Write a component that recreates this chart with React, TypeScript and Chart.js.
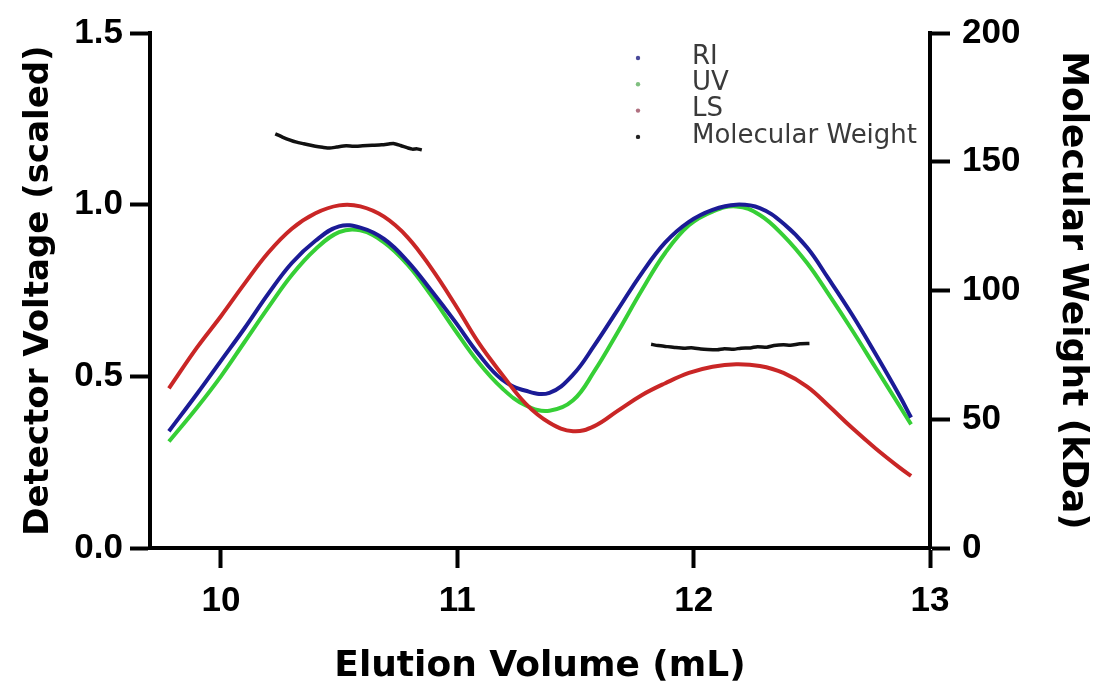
import React, { useEffect, useRef } from 'react';
import { Chart, registerables } from 'chart.js';

Chart.register(...registerables);

// ---- data ----
const VOLUME = [9.78, 9.90, 10.00, 10.10, 10.20, 10.30, 10.40, 10.50, 10.59, 10.69, 10.79, 10.89, 10.99, 11.09, 11.19, 11.29, 11.39, 11.49, 11.58, 11.68, 11.78, 11.88, 11.98, 12.08, 12.18, 12.28, 12.38, 12.48, 12.57, 12.67, 12.77, 12.87, 12.92];
const RI = [0.34, 0.45, 0.545, 0.64, 0.74, 0.83, 0.895, 0.937, 0.933, 0.9, 0.835, 0.75, 0.66, 0.565, 0.49, 0.458, 0.452, 0.505, 0.59, 0.695, 0.8, 0.89, 0.95, 0.985, 1.0, 0.99, 0.945, 0.875, 0.785, 0.68, 0.565, 0.445, 0.38];
const UV = [0.31, 0.41, 0.50, 0.60, 0.70, 0.795, 0.87, 0.92, 0.925, 0.89, 0.825, 0.735, 0.635, 0.54, 0.465, 0.415, 0.40, 0.43, 0.515, 0.63, 0.75, 0.86, 0.94, 0.98, 0.995, 0.97, 0.91, 0.83, 0.74, 0.635, 0.525, 0.415, 0.36];
const LS = [0.465, 0.585, 0.675, 0.77, 0.86, 0.93, 0.975, 0.998, 0.995, 0.965, 0.905, 0.815, 0.71, 0.598, 0.505, 0.42, 0.365, 0.34, 0.355, 0.40, 0.445, 0.48, 0.51, 0.528, 0.535, 0.53, 0.51, 0.47, 0.415, 0.35, 0.29, 0.235, 0.21];

const MW_VOLUME_1 = [10.23, 10.26, 10.29, 10.32, 10.35, 10.38, 10.40, 10.43, 10.46, 10.49, 10.53, 10.56, 10.60, 10.64, 10.68, 10.71, 10.73, 10.76, 10.79, 10.81, 10.83, 10.85];
const MW_1 = [160.8, 159.6, 158.5, 157.6, 157.0, 156.4, 156.0, 155.6, 155.3, 155.7, 156.2, 156.0, 156.2, 156.4, 156.6, 156.9, 157.1, 156.3, 155.4, 154.9, 155.0, 154.6];
const MW_VOLUME_2 = [11.82, 11.85, 11.89, 11.92, 11.96, 11.99, 12.03, 12.06, 12.10, 12.13, 12.17, 12.20, 12.24, 12.27, 12.31, 12.34, 12.38, 12.41, 12.45, 12.49];
const MW_2 = [79.1, 78.6, 78.2, 77.9, 77.6, 77.8, 77.3, 77.1, 77.0, 77.4, 77.2, 77.6, 77.7, 78.2, 78.0, 78.6, 78.9, 78.7, 79.3, 79.4];

const X_TICKS = [10, 11, 12, 13];
const SERIES_LABELS = ['RI', 'UV', 'LS', 'Molecular Weight'];

const ARIAL = "'Liberation Sans', Arial, Helvetica, sans-serif";
const DEJAVU = "'DejaVu Sans', Verdana, sans-serif";

const insideLegend = {
  id: 'insideLegend',
  afterDraw(chart: any) {
    const ctx = chart.ctx;
    ctx.save();
    ctx.font = `26px ${DEJAVU}`;
    ctx.textBaseline = 'middle';
    ctx.textAlign = 'left';
    chart.data.datasets.forEach((ds: any, i: number) => {
      const y = 57 + i * 26.3;
      ctx.fillStyle = ds.dotColor;
      ctx.beginPath();
      ctx.arc(638, y + 1, 2.2, 0, Math.PI * 2);
      ctx.fill();
      ctx.fillStyle = '#3a3a3a';
      ctx.fillText(ds.label, 692, y);
    });
    ctx.restore();
  },
};

export default function App() {
  const ref = useRef<HTMLCanvasElement | null>(null);

  useEffect(() => {
    if (!ref.current) return;
    const pts = (xs: number[], ys: number[]) => xs.map((x, i) => ({ x, y: ys[i] }));
    const mwData = [...pts(MW_VOLUME_1, MW_1), { x: 11.3, y: null }, ...pts(MW_VOLUME_2, MW_2)];

    const axisCommon = {
      grid: { display: true, drawOnChartArea: false, drawTicks: true, tickLength: 20, tickWidth: 4, tickColor: '#000' },
      border: { display: true, width: 4, color: '#000' },
    };

    const chart = new Chart(ref.current, {
      type: 'line',
      data: {
        datasets: [
          { label: SERIES_LABELS[0], data: pts(VOLUME, RI), borderColor: '#1b1b96', dotColor: '#4a4a9a', yAxisID: 'y', order: 2, borderWidth: 4, tension: 0.4 } as any,
          { label: SERIES_LABELS[1], data: pts(VOLUME, UV), borderColor: '#36cf36', dotColor: '#7fbf7f', yAxisID: 'y', order: 3, borderWidth: 4, tension: 0.4 } as any,
          { label: SERIES_LABELS[2], data: pts(VOLUME, LS), borderColor: '#c92626', dotColor: '#b07080', yAxisID: 'y', order: 1, borderWidth: 4, tension: 0.4 } as any,
          { label: SERIES_LABELS[3], data: mwData, borderColor: '#111111', dotColor: '#222222', yAxisID: 'y1', order: 0, borderWidth: 3.5, tension: 0.2, spanGaps: false } as any,
        ],
      },
      options: {
        responsive: false,
        animation: false,
        layout: { padding: { top: 29, left: 0, right: 0, bottom: 0 } },
        plugins: { legend: { display: false }, tooltip: { enabled: false } },
        elements: { point: { radius: 0 }, line: { fill: false } },
        scales: {
          x: {
            type: 'linear',
            position: 'bottom',
            min: 9.7,
            max: 13,
            afterBuildTicks: (s: any) => { s.ticks = X_TICKS.map((v) => ({ value: v })); },
            afterFit: (s: any) => { s.height = 135; },
            ...axisCommon,
            ticks: { autoSkip: false, maxRotation: 0, padding: 12, color: '#000', font: { family: ARIAL, size: 35, weight: 'bold', lineHeight: 1.2 } },
            title: { display: true, text: 'Elution Volume (mL)', color: '#000', padding: { top: 0, bottom: -2 }, font: { family: DEJAVU, size: 36, weight: 'bold', lineHeight: 1 } },
          },
          y: {
            type: 'linear',
            position: 'left',
            min: 0,
            max: 1.5,
            afterFit: (s: any) => { s.width = 150; },
            ...axisCommon,
            ticks: { stepSize: 0.5, padding: 7, color: '#000', callback: (v: any) => Number(v).toFixed(1), font: { family: ARIAL, size: 35, weight: 'bold' } },
            title: { display: true, text: 'Detector Voltage (scaled)', color: '#000', padding: { top: 22, bottom: 0 }, font: { family: DEJAVU, size: 34, weight: 'bold', lineHeight: 1 } },
          },
          y1: {
            type: 'linear',
            position: 'right',
            min: 0,
            max: 200,
            afterFit: (s: any) => { s.width = 168; },
            ...axisCommon,
            ticks: { stepSize: 50, padding: 12, color: '#000', font: { family: ARIAL, size: 35, weight: 'bold' } },
            title: { display: true, text: 'Molecular Weight (kDa)', color: '#000', padding: { top: 8, bottom: 0 }, font: { family: DEJAVU, size: 36, weight: 'bold', lineHeight: 1 } },
          },
        },
      } as any,
      plugins: [insideLegend],
    });
    return () => chart.destroy();
  }, []);

  return (
    <div style={{ position: 'fixed', left: 0, top: 0, width: 1098, height: 683, background: '#fff' }}>
      <canvas ref={ref} width={1098} height={683} style={{ width: 1098, height: 683, display: 'block' }} />
    </div>
  );
}
